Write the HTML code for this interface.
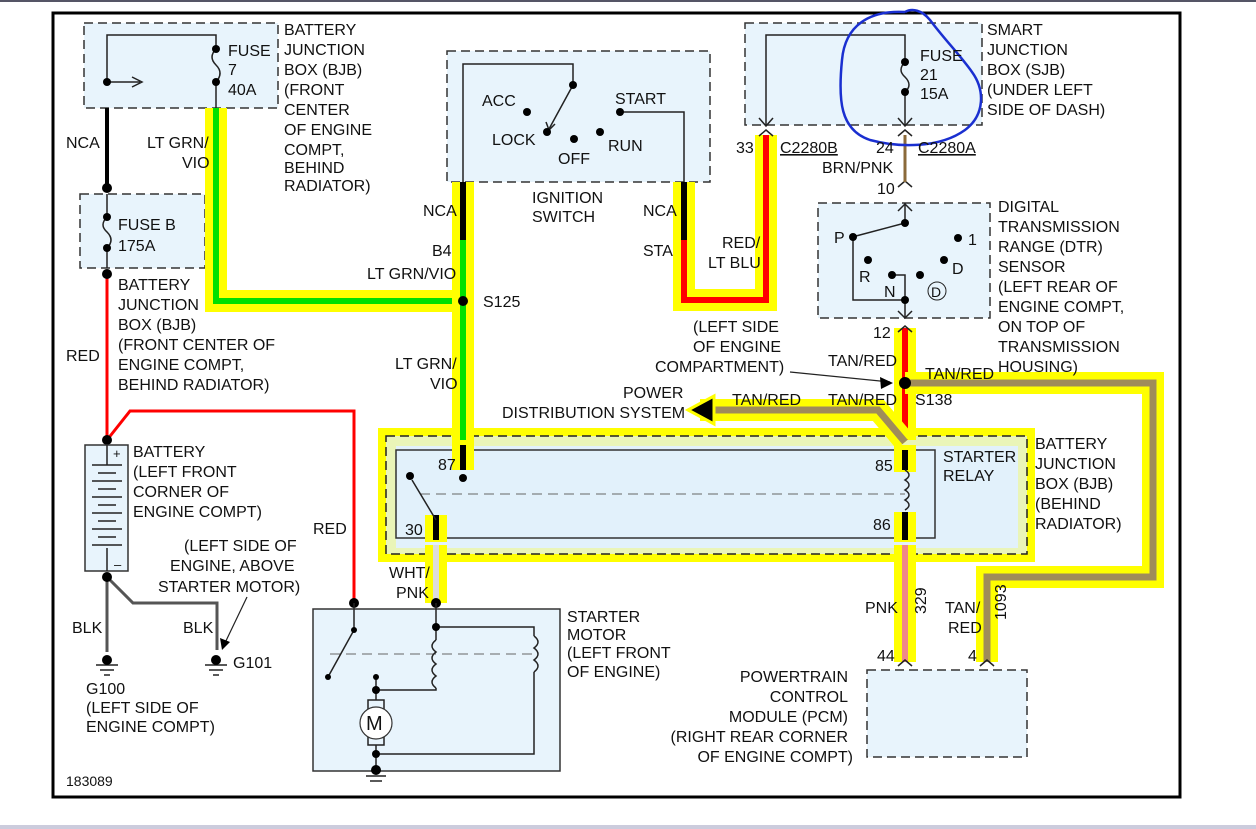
<!DOCTYPE html>
<html><head><meta charset="utf-8"><style>
html,body{margin:0;padding:0;background:#fff}
svg{display:block}
text{font-family:"Liberation Sans",sans-serif;font-size:16px;fill:#111}
</style></head><body>
<svg width="1256" height="829" viewBox="0 0 1256 829" xmlns="http://www.w3.org/2000/svg">
<rect x="0" y="0" width="1256" height="2" fill="#556"/>
<rect x="0" y="825" width="1256" height="4" fill="#ccd"/>
<rect x="53" y="13" width="1127" height="784" fill="#fff" stroke="#000" stroke-width="3"/>

<rect x="84" y="23" width="194" height="85" fill="#e8f4fc" stroke="#333" stroke-dasharray="9,5" stroke-width="1.5"/>
<rect x="80" y="194" width="125" height="74" fill="#e8f4fc" stroke="#333" stroke-dasharray="9,5" stroke-width="1.5"/>
<rect x="447" y="51" width="263" height="131" fill="#e8f4fc" stroke="#333" stroke-dasharray="9,5" stroke-width="1.5"/>
<rect x="745" y="23" width="237" height="102" fill="#e8f4fc" stroke="#333" stroke-dasharray="9,5" stroke-width="1.5"/>
<rect x="818" y="203" width="172" height="115" fill="#e8f4fc" stroke="#333" stroke-dasharray="9,5" stroke-width="1.5"/>
<rect x="867" y="670" width="160" height="87" fill="#e8f4fc" stroke="#333" stroke-dasharray="9,5" stroke-width="1.5"/>

<rect x="378" y="428" width="657" height="134" fill="#ffff00"/>
<rect x="386" y="436" width="641" height="118" fill="#eaf5b8" stroke="#222" stroke-dasharray="9,5" stroke-width="1.5"/>
<rect x="396" y="446" width="622" height="102" fill="#e2f1fb"/>
<rect x="396" y="450" width="539" height="88" fill="none" stroke="#333" stroke-width="1.5"/>
<line x1="420" y1="494" x2="905" y2="494" stroke="#666" stroke-dasharray="10,6"/>

<g fill="none" stroke-linejoin="miter">
<polyline points="216,108 216,301 463,301" stroke="#ffff00" stroke-width="22"/>
<polyline points="216,108 216,301 463,301" stroke="#00e000" stroke-width="6"/>
<polyline points="463,182 463,445" stroke="#ffff00" stroke-width="22"/>
<polyline points="463,240 463,445" stroke="#00e000" stroke-width="6"/>
<polyline points="463,182 463,240" stroke="#000" stroke-width="6"/>
<polyline points="684,182 684,300 766,300 766,135" stroke="#ffff00" stroke-width="22"/>
<polyline points="684,240 684,300 766,300 766,135" stroke="#ff0000" stroke-width="6"/>
<polyline points="684,182 684,240" stroke="#000" stroke-width="6"/>
<polyline points="905,328 905,440" stroke="#ffff00" stroke-width="22"/>
<polyline points="905,328 905,440" stroke="#ff0000" stroke-width="6"/>
<polyline points="905,383 1153,383 1153,577 987,577 987,662" stroke="#ffff00" stroke-width="22"/>
<polyline points="905,383 1153,383 1153,577 987,577 987,662" stroke="#a08c5a" stroke-width="7"/>
<polyline points="905,442 878,410 700,410" stroke="#ffff00" stroke-width="22"/>
<polyline points="905,442 878,410 700,410" stroke="#a08c5a" stroke-width="7"/>
<polyline points="905,545 905,662" stroke="#ffff00" stroke-width="22"/>
<polyline points="905,545 905,662" stroke="#f08888" stroke-width="6"/>
<polyline points="436,545 436,603" stroke="#ffff00" stroke-width="22"/>
<polyline points="436,545 436,603" stroke="#dddddd" stroke-width="6"/>
<polyline points="463,440 463,470" stroke="#ffff00" stroke-width="22"/>
<polyline points="463,445 463,470" stroke="#000" stroke-width="6"/>
<polyline points="436,515 436,542" stroke="#ffff00" stroke-width="22"/>
<polyline points="436,515 436,540" stroke="#000" stroke-width="6"/>
<polyline points="905,445 905,472" stroke="#ffff00" stroke-width="22"/>
<polyline points="905,450 905,470" stroke="#000" stroke-width="6"/>
<polyline points="905,512 905,542" stroke="#ffff00" stroke-width="22"/>
<polyline points="905,512 905,540" stroke="#000" stroke-width="6"/>
</g>
<polygon points="688,410 714,396 714,424" fill="#000" stroke="#ffff00" stroke-width="3"/>

<g fill="none" stroke="#222" stroke-width="1.5">
<polyline points="107,82 107,35 216,35 216,49"/>
<line x1="216" y1="82" x2="216" y2="108"/>
<line x1="107" y1="82" x2="140" y2="82"/>
<path d="M216,49 q-8,8 0,16 q8,8 0,17"/>
<polyline points="463,182 463,64 573,64 573,85"/>
<line x1="573" y1="85" x2="549" y2="129"/>
<polyline points="620,112 684,112 684,182"/>
<polyline points="766,125 766,35 905,35 905,62"/>
<line x1="905" y1="92" x2="905" y2="125"/>
<path d="M905,62 q-8,8 0,15 q8,8 0,15"/>
<line x1="905" y1="203" x2="905" y2="223"/>
<line x1="905" y1="223" x2="856" y2="236"/>
<polyline points="853,237 853,300 905,300 905,318"/>
<polyline points="892,275 905,275 905,300"/>
<path d="M107,217 q-8,8 0,15 q8,8 0,16"/>
<line x1="107" y1="194" x2="107" y2="217"/>
<line x1="107" y1="248" x2="107" y2="268"/>
<line x1="436" y1="520" x2="412" y2="480"/>
<path d="M905,470 q8,5 0,10 q8,5 0,10 q8,5 0,10 q8,5 0,10"/>
</g>
<g fill="none" stroke="#222" stroke-width="1.5">
<polyline points="132,77 142,82 132,87"/>
<polyline points="546,122 549,130 555,124"/>
<polyline points="759,118 766,126 773,118"/>
<polyline points="898,118 905,126 912,118"/>
<polyline points="759,136 766,130 773,136"/>
<polyline points="898,136 905,130 912,136"/>
<polyline points="898,187 905,181 912,187"/>
<polyline points="898,211 905,204 912,211"/>
<polyline points="898,311 905,318 912,311"/>
<polyline points="898,332 905,326 912,332"/>
<polyline points="898,666 905,660 912,666"/>
<polyline points="980,666 987,660 994,666"/>
</g>
<line x1="107" y1="108" x2="107" y2="188" stroke="#000" stroke-width="4"/>
<line x1="905" y1="135" x2="905" y2="182" stroke="#8b6a3a" stroke-width="3"/>
<polyline points="107,274 107,440" fill="none" stroke="#f00" stroke-width="3"/>
<polyline points="107,440 130,411 354,411 354,603" fill="none" stroke="#f00" stroke-width="3"/>
<polyline points="107,577 107,652" fill="none" stroke="#555" stroke-width="3"/>
<polyline points="107,577 133,603 217,603 217,650" fill="none" stroke="#555" stroke-width="3"/>
<line x1="790" y1="372" x2="890" y2="382" stroke="#222" stroke-width="1.2"/>
<polygon points="893,383 880,377 881,389" fill="#000"/>
<line x1="247" y1="597" x2="224" y2="645" stroke="#222" stroke-width="1.2"/>
<polygon points="222,650 220,638 230,642" fill="#000"/>

<g fill="#000">
<circle cx="107" cy="82" r="4"/><circle cx="216" cy="49" r="4"/><circle cx="216" cy="82" r="4"/>
<circle cx="107" cy="188" r="5"/><circle cx="107" cy="217" r="4"/><circle cx="107" cy="248" r="4"/><circle cx="107" cy="274" r="5"/>
<circle cx="573" cy="85" r="4"/><circle cx="527" cy="112" r="4"/><circle cx="547" cy="132" r="4"/><circle cx="574" cy="139" r="4"/><circle cx="600" cy="132" r="4"/><circle cx="620" cy="112" r="4"/>
<circle cx="905" cy="62" r="4"/><circle cx="905" cy="92" r="4"/>
<circle cx="905" cy="223" r="4"/><circle cx="853" cy="237" r="4"/><circle cx="958" cy="238" r="4"/><circle cx="868" cy="260" r="4"/><circle cx="944" cy="260" r="4"/><circle cx="892" cy="275" r="4"/><circle cx="920" cy="275" r="4"/><circle cx="905" cy="300" r="4"/>
<circle cx="463" cy="301" r="5"/><circle cx="905" cy="383" r="6"/>
<circle cx="463" cy="478" r="4"/><circle cx="410" cy="476" r="4"/>
<circle cx="107" cy="440" r="5"/><circle cx="107" cy="577" r="5"/>
<circle cx="354" cy="603" r="5"/><circle cx="436" cy="603" r="5"/>
</g>
<circle cx="937" cy="291" r="9" fill="none" stroke="#222"/>

<rect x="85" y="445" width="43" height="126" fill="#e8f4fc" stroke="#333" stroke-width="1.5"/>
<g stroke="#222" stroke-width="1.5">
<line x1="107" y1="445" x2="107" y2="465"/>
<line x1="92" y1="465" x2="122" y2="465"/><line x1="98" y1="473" x2="116" y2="473"/>
<line x1="92" y1="481" x2="122" y2="481"/><line x1="98" y1="489" x2="116" y2="489"/>
<line x1="92" y1="497" x2="122" y2="497"/><line x1="98" y1="505" x2="116" y2="505"/>
<line x1="92" y1="513" x2="122" y2="513"/><line x1="98" y1="521" x2="116" y2="521"/>
<line x1="92" y1="529" x2="122" y2="529"/><line x1="98" y1="537" x2="116" y2="537"/>
<line x1="92" y1="545" x2="122" y2="545"/>
<line x1="107" y1="548" x2="107" y2="571"/>
<line x1="96" y1="665" x2="118" y2="665"/><line x1="100" y1="670" x2="114" y2="670"/><line x1="104" y1="675" x2="110" y2="675"/>
<line x1="205" y1="665" x2="227" y2="665"/><line x1="209" y1="670" x2="223" y2="670"/><line x1="213" y1="675" x2="219" y2="675"/>
</g>
<circle cx="107" cy="660" r="5" fill="#000"/><circle cx="216" cy="660" r="5" fill="#000"/>
<text x="113" y="458" style="font-size:13px">+</text><text x="114" y="569" style="font-size:13px">–</text>

<rect x="313" y="609" width="247" height="162" fill="#e8f4fc" stroke="#333" stroke-width="1.5"/>
<line x1="330" y1="654" x2="534" y2="654" stroke="#666" stroke-dasharray="10,6"/>
<g fill="none" stroke="#222" stroke-width="1.5">
<polyline points="354,603 354,630 328,677"/>
<polyline points="436,603 436,640"/>
<polyline points="436,627 534,627 534,636"/>
<path d="M436,640 q-8,6 0,12 q-8,6 0,12 q-8,6 0,12 q-8,6 0,12"/>
<polyline points="436,688 436,690 376,690"/>
<path d="M534,636 q8,6 0,12 q8,6 0,12 q8,6 0,12"/>
<polyline points="534,672 534,754 376,754"/>
<line x1="376" y1="677" x2="376" y2="700"/>
<rect x="368" y="700" width="16" height="45"/>
<line x1="376" y1="745" x2="376" y2="770"/>
<line x1="366" y1="776" x2="386" y2="776"/><line x1="370" y1="781" x2="382" y2="781"/>
</g>
<circle cx="376" cy="723" r="16" fill="#fff" stroke="#333" stroke-width="1.2"/>
<text x="366" y="730" style="font-size:20px">M</text>
<g fill="#000"><circle cx="354" cy="630" r="3"/><circle cx="328" cy="677" r="3"/><circle cx="436" cy="627" r="4"/><circle cx="376" cy="677" r="3"/><circle cx="376" cy="690" r="4"/><circle cx="376" cy="754" r="4"/><circle cx="376" cy="770" r="5"/></g>

<path d="M905,12 C870,10 845,25 842,60 C838,100 840,130 870,140 C900,148 940,148 965,130 C985,115 985,90 972,72 C960,55 945,40 930,20 C922,10 912,8 905,12" fill="none" stroke="#1a2fd0" stroke-width="2.5"/>

<text x="228" y="56">FUSE</text><text x="228" y="75">7</text><text x="228" y="95">40A</text>
<text x="284" y="35">BATTERY</text><text x="284" y="55">JUNCTION</text><text x="284" y="75">BOX (BJB)</text><text x="284" y="95">(FRONT</text><text x="284" y="115">CENTER</text><text x="284" y="135">OF ENGINE</text><text x="284" y="155">COMPT,</text><text x="284" y="173">BEHIND</text><text x="284" y="191">RADIATOR)</text>
<text x="66" y="148">NCA</text><text x="147" y="148">LT GRN/</text><text x="182" y="168">VIO</text>
<text x="118" y="230">FUSE B</text><text x="118" y="251">175A</text>
<text x="118" y="290">BATTERY</text><text x="118" y="310">JUNCTION</text><text x="118" y="330">BOX (BJB)</text><text x="118" y="350">(FRONT CENTER OF</text><text x="118" y="370">ENGINE COMPT,</text><text x="118" y="390">BEHIND RADIATOR)</text>
<text x="66" y="361">RED</text>
<text x="482" y="106">ACC</text><text x="492" y="145">LOCK</text><text x="558" y="164">OFF</text><text x="608" y="151">RUN</text><text x="615" y="104">START</text>
<text x="532" y="203">IGNITION</text><text x="532" y="222">SWITCH</text>
<text x="423" y="216">NCA</text><text x="432" y="256">B4</text><text x="367" y="279">LT GRN/VIO</text><text x="483" y="307">S125</text>
<text x="395" y="369">LT GRN/</text><text x="430" y="389">VIO</text>
<text x="643" y="216">NCA</text><text x="643" y="256">STA</text><text x="722" y="248">RED/</text><text x="708" y="268">LT BLU</text>
<text x="920" y="61">FUSE</text><text x="920" y="80">21</text><text x="920" y="99">15A</text>
<text x="987" y="35">SMART</text><text x="987" y="55">JUNCTION</text><text x="987" y="75">BOX (SJB)</text><text x="987" y="95">(UNDER LEFT</text><text x="987" y="115">SIDE OF DASH)</text>
<text x="736" y="153">33</text><text x="780" y="153" text-decoration="underline">C2280B</text><text x="876" y="153">24</text><text x="918" y="153" text-decoration="underline">C2280A</text>
<text x="822" y="173">BRN/PNK</text><text x="877" y="194">10</text>
<text x="834" y="243">P</text><text x="859" y="282">R</text><text x="884" y="297">N</text><text x="952" y="274">D</text><text x="968" y="245">1</text><text x="931" y="297" style="font-size:14px">D</text>
<text x="998" y="212">DIGITAL</text><text x="998" y="232">TRANSMISSION</text><text x="998" y="252">RANGE (DTR)</text><text x="998" y="272">SENSOR</text><text x="998" y="292">(LEFT REAR OF</text><text x="998" y="312">ENGINE COMPT,</text><text x="998" y="332">ON TOP OF</text><text x="998" y="352">TRANSMISSION</text><text x="998" y="372">HOUSING)</text>
<text x="873" y="338">12</text>
<text x="693" y="332">(LEFT SIDE</text><text x="693" y="352">OF ENGINE</text><text x="655" y="372">COMPARTMENT)</text>
<text x="828" y="366">TAN/RED</text><text x="925" y="379">TAN/RED</text>
<text x="732" y="405">TAN/RED</text><text x="828" y="405">TAN/RED</text><text x="915" y="405">S138</text>
<text x="623" y="398">POWER</text><text x="502" y="418">DISTRIBUTION SYSTEM</text>
<text x="438" y="470">87</text><text x="405" y="535">30</text><text x="875" y="471">85</text><text x="873" y="530">86</text>
<text x="943" y="462">STARTER</text><text x="943" y="481">RELAY</text>
<text x="1035" y="449">BATTERY</text><text x="1035" y="469">JUNCTION</text><text x="1035" y="489">BOX (BJB)</text><text x="1035" y="509">(BEHIND</text><text x="1035" y="529">RADIATOR)</text>
<text x="313" y="534">RED</text>
<text x="389" y="578">WHT/</text><text x="396" y="598">PNK</text>
<text x="865" y="613">PNK</text><text transform="translate(926,614) rotate(-90)">329</text>
<text x="945" y="613">TAN/</text><text x="948" y="633">RED</text><text transform="translate(1006,620) rotate(-90)">1093</text>
<text x="877" y="661">44</text><text x="968" y="661">4</text>
<text x="848" y="682" text-anchor="end">POWERTRAIN</text><text x="848" y="702" text-anchor="end">CONTROL</text><text x="848" y="722" text-anchor="end">MODULE (PCM)</text><text x="848" y="742" text-anchor="end">(RIGHT REAR CORNER</text><text x="853" y="762" text-anchor="end">OF ENGINE COMPT)</text>
<text x="567" y="622">STARTER</text><text x="567" y="640">MOTOR</text><text x="567" y="658">(LEFT FRONT</text><text x="567" y="677">OF ENGINE)</text>
<text x="133" y="457">BATTERY</text><text x="133" y="477">(LEFT FRONT</text><text x="133" y="497">CORNER OF</text><text x="133" y="517">ENGINE COMPT)</text>
<text x="184" y="551">(LEFT SIDE OF</text><text x="170" y="571">ENGINE, ABOVE</text><text x="158" y="592">STARTER MOTOR)</text>
<text x="72" y="633">BLK</text><text x="183" y="633">BLK</text><text x="233" y="668">G101</text>
<text x="86" y="694">G100</text><text x="86" y="713">(LEFT SIDE OF</text><text x="86" y="732">ENGINE COMPT)</text>
<text x="66" y="786" style="font-size:14px">183089</text>
</svg>
</body></html>
